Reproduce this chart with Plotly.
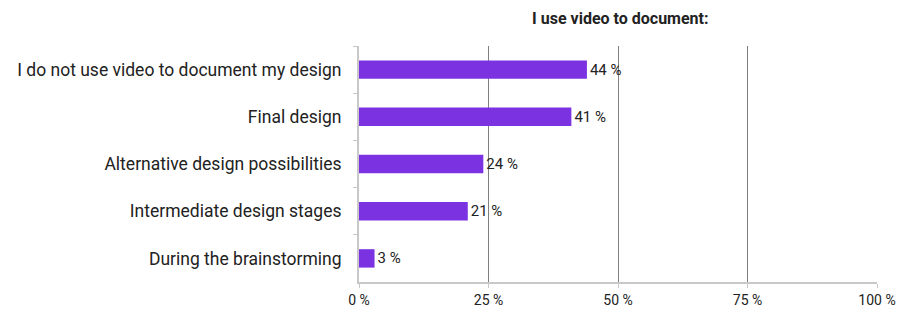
import plotly.graph_objects as go

categories = ["I do not use video to document my design", "Final design",
              "Alternative design possibilities", "Intermediate design stages",
              "During the brainstorming"]
values = [44, 41, 24, 21, 3]
labels = [f"{v} %" for v in values]
tickvals = [0, 25, 50, 75, 100]
ticktext = ["0 %", "25 %", "50 %", "75 %", "100 %"]

fig = go.Figure(go.Bar(
    x=values, y=categories, orientation="h",
    marker=dict(color="#7B33E1", line=dict(width=0)),
    text=labels, textposition="outside", cliponaxis=False,
    textfont=dict(size=15, color="#222"),
    width=0.39,
))
fig.update_layout(
    width=899, height=311,
    margin=dict(l=359, r=22, t=46, b=29, autoexpand=False),
    paper_bgcolor="white", plot_bgcolor="white",
    font=dict(family="Roboto", color="#222"),
    title=dict(text="<b>I use video to document:</b>", x=0.69, xanchor="center",
               y=0.942, yanchor="middle", font=dict(size=16, color="#222")),
    showlegend=False,
    bargap=0.61,
)
fig.update_xaxes(range=[0, 100], tickvals=tickvals, ticktext=ticktext,
                 showgrid=True, gridcolor="#808080", gridwidth=1,
                 showline=True, linecolor="#c8c8c8", linewidth=2,
                 ticks="outside", ticklen=4, tickcolor="#c8c8c8",
                 tickfont=dict(size=14, color="#222"), zeroline=False,
                 automargin=False, fixedrange=True)
fig.update_yaxes(autorange="reversed", showline=True, linecolor="#c8c8c8", linewidth=2,
                 ticks="outside", tickson="boundaries", ticklen=4, tickcolor="#c8c8c8",
                 ticklabelstandoff=12,
                 tickfont=dict(size=17.5, color="#222"),
                 automargin=False, fixedrange=True)
fig.write_html("out.html", config={"displayModeBar": False},
               post_script="document.body.style.margin='0';document.body.style.overflow='hidden';")
